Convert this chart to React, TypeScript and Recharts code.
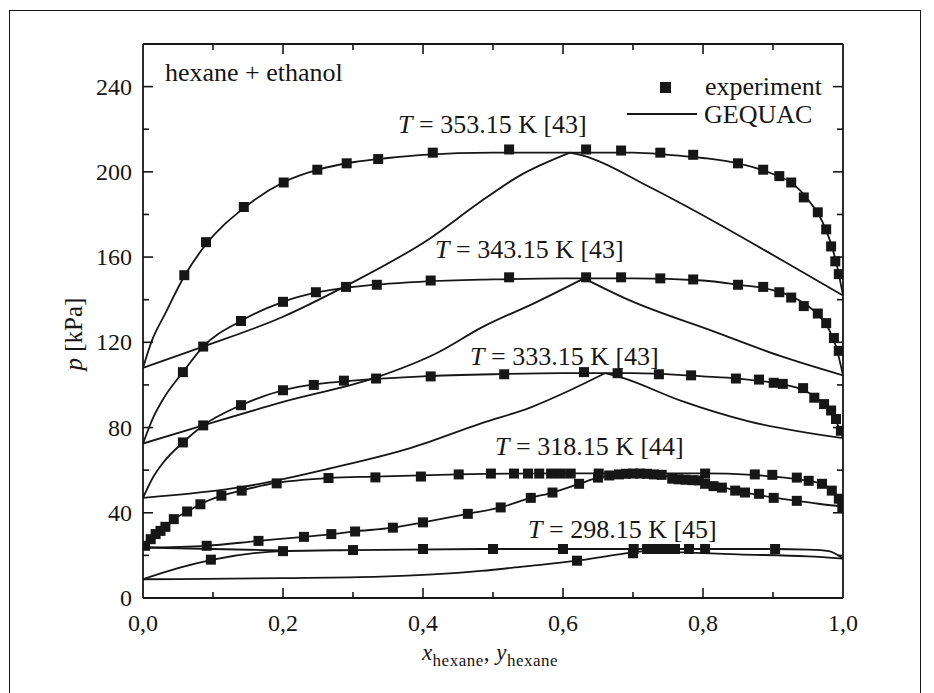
import { ComposedChart, Line, Scatter, XAxis, YAxis } from 'recharts'

// values: x = mole fraction hexane, p in kPa
const xTicks = [0, 0.1, 0.2, 0.3, 0.4, 0.5, 0.6, 0.7, 0.8, 0.9, 1]
const yTicks = [0, 20, 40, 60, 80, 100, 120, 140, 160, 180, 200, 220, 240]

const exp353 = [[0.059, 151.5], [0.09, 167], [0.144, 183.5], [0.201, 195], [0.249, 201], [0.291, 204], [0.336, 206], [0.414, 209], [0.523, 210.5], [0.633, 210.5], [0.683, 210], [0.739, 209], [0.786, 208], [0.85, 204], [0.886, 201], [0.909, 198], [0.926, 195], [0.944, 188], [0.964, 181], [0.976, 173], [0.983, 165], [0.989, 158], [0.994, 152]]
const exp343 = [[0.057, 106], [0.086, 118], [0.14, 130], [0.2, 139], [0.247, 143.5], [0.29, 146], [0.334, 147], [0.411, 149], [0.523, 150.5], [0.633, 150.5], [0.683, 150.5], [0.739, 150], [0.786, 149.5], [0.85, 147], [0.886, 146], [0.909, 143.5], [0.926, 141], [0.944, 137], [0.964, 133.5], [0.976, 129], [0.987, 122], [0.994, 116]]
const exp333 = [[0.057, 73], [0.086, 81], [0.14, 90.5], [0.2, 97.5], [0.244, 100], [0.287, 102], [0.333, 103], [0.411, 104], [0.516, 105], [0.63, 106], [0.678, 105.5], [0.737, 105], [0.783, 104.5], [0.847, 103], [0.88, 102.5], [0.901, 101], [0.914, 100.5], [0.943, 98.5], [0.959, 94], [0.973, 91], [0.983, 88], [0.99, 84], [0.997, 78.5]]
const exp318 = [[0.003, 24.5], [0.011, 27.6], [0.018, 30], [0.025, 31.5], [0.032, 33.4], [0.044, 37], [0.063, 40.6], [0.082, 44], [0.112, 48], [0.141, 50.4], [0.191, 53.8], [0.265, 56.3], [0.332, 56.6], [0.397, 57], [0.451, 58], [0.497, 58.4], [0.53, 58.4], [0.55, 58.4], [0.566, 58.4], [0.583, 58.4], [0.597, 58.4], [0.611, 58.4], [0.651, 58.4], [0.803, 58.4], [0.874, 58], [0.899, 57.8], [0.934, 56.5], [0.951, 55], [0.97, 53.6], [0.984, 50.4], [0.994, 46.6], [0.999, 42.5],
  [0.091, 24.5], [0.165, 26.8], [0.23, 28.7], [0.269, 30], [0.303, 31.2], [0.357, 33], [0.4, 35.5], [0.464, 39.5], [0.511, 42.5], [0.554, 47], [0.585, 49.5], [0.623, 53.6], [0.65, 56.5], [0.666, 57.5], [0.68, 58], [0.69, 58.3], [0.7, 58.4], [0.71, 58.4], [0.72, 58.3], [0.73, 58], [0.741, 57.8], [0.756, 56], [0.765, 55.7], [0.775, 55.5], [0.785, 55.3], [0.794, 55.2], [0.803, 53.6], [0.815, 52.5], [0.827, 51.8], [0.846, 50.4], [0.86, 49.5], [0.88, 48.9], [0.901, 47], [0.934, 45.6]]
const exp298 = [[0.097, 18], [0.2, 22], [0.3, 22.5], [0.4, 23], [0.5, 23], [0.6, 23], [0.62, 17.5], [0.7, 21], [0.701, 23], [0.72, 23], [0.73, 23], [0.74, 23], [0.75, 23], [0.76, 23], [0.78, 23], [0.803, 23], [0.903, 23]]

// GEQUAC curves (bubble + dew branches)
const bubble353 = [[0, 108], [0.013, 121], [0.031, 133], [0.059, 151], [0.09, 166], [0.144, 183], [0.2, 195], [0.25, 201], [0.3, 204.5], [0.35, 206.5], [0.4, 208], [0.5, 209], [0.6, 209], [0.7, 209], [0.75, 208], [0.8, 206.5], [0.85, 204], [0.9, 199], [0.93, 194], [0.95, 187], [0.97, 177], [0.98, 169], [0.99, 158], [1, 142]]
const dew353L = [[0, 108], [0.086, 118], [0.2, 132], [0.287, 146], [0.411, 169], [0.478, 185], [0.537, 198], [0.61, 209]]
const dew353R = [[0.61, 209], [0.63, 207.5], [0.723, 193], [0.817, 176.5], [0.913, 158.5], [1, 142]]
const bubble343 = [[0, 72.5], [0.015, 85], [0.03, 94], [0.057, 106], [0.086, 118], [0.14, 130], [0.2, 139], [0.25, 143.5], [0.3, 146], [0.4, 148.5], [0.5, 149.5], [0.6, 150], [0.7, 150], [0.8, 149], [0.85, 147], [0.9, 144.5], [0.93, 141], [0.95, 137], [0.97, 131], [0.98, 126], [0.99, 118], [1, 104.5]]
const dew343L = [[0, 72.5], [0.086, 81], [0.2, 92], [0.333, 103.5], [0.42, 115], [0.484, 127], [0.563, 139], [0.63, 150]]
const dew343R = [[0.63, 150], [0.693, 140], [0.816, 125], [0.911, 113.5], [1, 104.5]]
const bubble333 = [[0, 47], [0.015, 57], [0.03, 64], [0.057, 73], [0.086, 81], [0.14, 90.5], [0.2, 97.5], [0.25, 100.5], [0.3, 102], [0.4, 104], [0.5, 105], [0.6, 105.5], [0.7, 105.5], [0.8, 104], [0.85, 103], [0.9, 101], [0.94, 98], [0.96, 94.5], [0.98, 88], [0.99, 83], [1, 75]]
const dew333L = [[0, 47], [0.14, 52], [0.269, 61], [0.383, 70.5], [0.483, 82], [0.554, 89.5], [0.61, 97.5], [0.66, 105.5]]
const dew333R = [[0.66, 105.5], [0.683, 103.5], [0.769, 92.5], [0.864, 83], [1, 75]]
const bubble318 = [[0, 23.7], [0.01, 27.5], [0.025, 31.5], [0.044, 37], [0.063, 40.5], [0.082, 44], [0.112, 48], [0.141, 50.5], [0.19, 54], [0.265, 56.3], [0.33, 57], [0.45, 58], [0.6, 58.5], [0.7, 58.5], [0.8, 58.5], [0.87, 57.8], [0.9, 57], [0.93, 56], [0.95, 55], [0.97, 53.5], [0.984, 50.5], [0.994, 46.5], [1, 43]]
const dew318 = [[0, 23.7], [0.09, 24.5], [0.165, 26.8], [0.23, 28.7], [0.27, 30], [0.3, 31.2], [0.357, 33], [0.4, 35.5], [0.464, 39.5], [0.511, 42.5], [0.554, 47], [0.585, 49.5], [0.623, 53.5], [0.65, 56.5], [0.7, 58.3], [0.74, 57.5], [0.78, 55.5], [0.8, 54], [0.83, 51.8], [0.86, 49.5], [0.9, 47.2], [0.934, 45.6], [0.97, 44], [1, 43]]
const bubble298 = [[0, 8.8], [0.05, 14], [0.1, 18], [0.2, 22], [0.3, 22.5], [0.5, 23], [0.7, 23], [0.9, 23], [0.95, 22.7], [0.98, 22], [1, 18.5]]
const dew298 = [[0, 8.8], [0.2, 9.3], [0.34, 10], [0.483, 12.7], [0.55, 15], [0.62, 17.5], [0.68, 20.5], [0.72, 22], [0.76, 21.5], [0.85, 20.5], [0.95, 19.5], [1, 18.5]]
const flat298 = [[0, 23.7], [0.1, 23], [0.2, 22.3]]

const curveLabels = [
  { text: '353.15 K [43]', left: 398, top: 125 },
  { text: '343.15 K [43]', left: 435, top: 250 },
  { text: '333.15 K [43]', left: 470, top: 357 },
  { text: '318.15 K [44]', left: 495, top: 447 },
  { text: '298.15 K [45]', left: 528, top: 530 },
]

const INK = '#161616'
const FONT = '"Liberation Serif", "Times New Roman", serif'

const pts = (arr: number[][]) => arr.map(([x, p]) => ({ x, p }))

const curves = [bubble353, dew353L, dew353R, bubble343, dew343L, dew343R, bubble333, dew333L, dew333R, bubble318, dew318, bubble298, dew298, flat298]
const experiments = [exp353, exp343, exp333, exp318, exp298]

const Square = (props: any) => (
  <rect x={props.cx - 5} y={props.cy - 5} width={10} height={10} fill={INK} />
)

const BottomTick = (props: any) => {
  const { x, y, payload } = props
  const v = payload.value
  const major = Math.round(v * 10) % 2 === 0
  return (
    <g>
      {v > 0 && v < 1 && <line x1={x} x2={x} y1={y} y2={y - (major ? 10 : 6)} stroke={INK} strokeWidth={1.6} />}
      {major && (
        <text x={x} y={y + 27} textAnchor="middle" dominantBaseline="middle" fontFamily={FONT} fontSize={24} fill={INK}>
          {v.toFixed(1).replace('.', ',')}
        </text>
      )}
    </g>
  )
}

const TopTick = (props: any) => {
  const { x, y, payload } = props
  const v = payload.value
  const major = Math.round(v * 10) % 2 === 0
  if (v <= 0 || v >= 1) return <g />
  return <line x1={x} x2={x} y1={y} y2={y + (major ? 10 : 6)} stroke={INK} strokeWidth={1.6} />
}

const LeftTick = (props: any) => {
  const { x, y, payload } = props
  const v = payload.value
  const major = v % 40 === 0
  return (
    <g>
      {v > 0 && <line x1={x} x2={x + (major ? 10 : 6)} y1={y} y2={y} stroke={INK} strokeWidth={1.6} />}
      {major && (
        <text x={x - 11} y={y} textAnchor="end" dominantBaseline="central" fontFamily={FONT} fontSize={24} fill={INK}>
          {v}
        </text>
      )}
    </g>
  )
}

const RightTick = (props: any) => {
  const { x, y, payload } = props
  const v = payload.value
  const major = v % 40 === 0
  if (v <= 0) return <g />
  return <line x1={x} x2={x - (major ? 10 : 6)} y1={y} y2={y} stroke={INK} strokeWidth={1.6} />
}

const textStyle = { position: 'absolute' as const, fontFamily: FONT, color: INK, whiteSpace: 'nowrap' as const, lineHeight: 1 }

export default function App() {
  return (
    <div style={{ position: 'absolute', left: 0, top: 0, width: 934, height: 693, background: '#fff', overflow: 'hidden' }}>
      <div style={{ position: 'absolute', left: 9, top: 10, width: 912, height: 700, border: `1.5px solid ${INK}`, boxSizing: 'border-box' }} />
      <div style={{ position: 'absolute', left: 0, top: 0 }}>
        <ComposedChart width={934} height={693} margin={{ top: 43, right: 90, bottom: 35, left: 83 }}>
          <XAxis
            dataKey="x"
            type="number"
            domain={[0, 1]}
            ticks={xTicks}
            interval={0}
            height={60}
            tickSize={0}
            tickMargin={0}
            tickLine={false}
            axisLine={{ stroke: INK, strokeWidth: 1.8 }}
            tick={<BottomTick />}
            allowDataOverflow
          />
          <XAxis
            xAxisId="top"
            orientation="top"
            dataKey="x"
            type="number"
            domain={[0, 1]}
            ticks={xTicks}
            interval={0}
            height={1}
            tickSize={0}
            tickMargin={0}
            tickLine={false}
            axisLine={{ stroke: INK, strokeWidth: 1.8 }}
            tick={<TopTick />}
            allowDataOverflow
          />
          <YAxis
            dataKey="p"
            type="number"
            domain={[0, 260]}
            ticks={yTicks}
            interval={0}
            width={60}
            tickSize={0}
            tickMargin={0}
            tickLine={false}
            axisLine={{ stroke: INK, strokeWidth: 1.8 }}
            tick={<LeftTick />}
            allowDataOverflow
          />
          <YAxis
            yAxisId="right"
            orientation="right"
            dataKey="p"
            type="number"
            domain={[0, 260]}
            ticks={yTicks}
            interval={0}
            width={1}
            tickSize={0}
            tickMargin={0}
            tickLine={false}
            axisLine={{ stroke: INK, strokeWidth: 1.8 }}
            tick={<RightTick />}
            allowDataOverflow
          />
          {curves.map((c, i) => (
            <Line
              key={`c${i}`}
              data={pts(c)}
              dataKey="p"
              name="GEQUAC"
              type="monotone"
              stroke={INK}
              strokeWidth={1.8}
              dot={false}
              activeDot={false}
              isAnimationActive={false}
            />
          ))}
          {experiments.map((e, i) => (
            <Scatter
              key={`e${i}`}
              data={pts(e)}
              dataKey="p"
              name="experiment"
              shape={<Square />}
              isAnimationActive={false}
            />
          ))}
        </ComposedChart>
      </div>

      <div style={{ ...textStyle, left: 165, top: 73, fontSize: 26, transform: 'translateY(-50%)' }}>hexane + ethanol</div>

      {/* legend */}
      <div style={{ position: 'absolute', left: 660, top: 82, width: 11, height: 11, background: INK }} />
      <div style={{ ...textStyle, left: 705, top: 87, fontSize: 26, transform: 'translateY(-50%)' }}>experiment</div>
      <div style={{ position: 'absolute', left: 627, top: 113, width: 70, height: 2, background: INK }} />
      <div style={{ ...textStyle, left: 704, top: 115, fontSize: 26, transform: 'translateY(-50%)' }}>GEQUAC</div>

      {curveLabels.map((l) => (
        <div key={l.text} style={{ ...textStyle, left: l.left, top: l.top, fontSize: 26, transform: 'translateY(-50%)' }}>
          <i>T</i> = {l.text}
        </div>
      ))}

      <div style={{ ...textStyle, left: 73, top: 334, fontSize: 25, transform: 'translate(-50%, -50%) rotate(-90deg)' }}>
        <i>p</i> [kPa]
      </div>
      <div style={{ ...textStyle, left: 490, top: 655, fontSize: 23, letterSpacing: 0.5, transform: 'translate(-50%, -50%)' }}>
        <i>x</i><sub style={{ fontSize: 17 }}>hexane</sub>, <i>y</i><sub style={{ fontSize: 17 }}>hexane</sub>
      </div>
    </div>
  )
}
